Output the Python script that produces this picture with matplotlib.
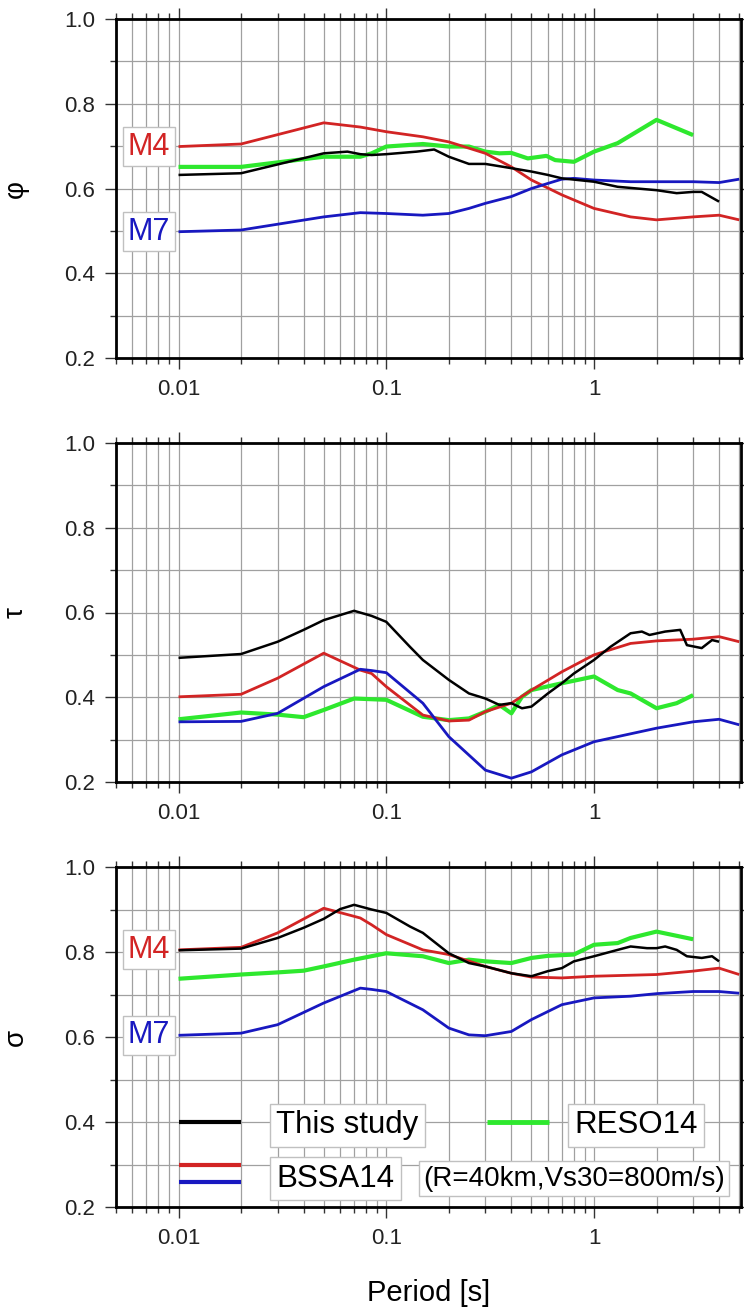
import numpy as np
import matplotlib
matplotlib.use("Agg")
import matplotlib.pyplot as plt
from matplotlib.ticker import FixedLocator, FixedFormatter, LogLocator, NullFormatter, MultipleLocator

plt.rcParams['font.family'] = ['Liberation Sans', 'DejaVu Sans']

# ---------------- data (period [s], value) ----------------
# phi (within-event)
T_phi_this = [0.01, 0.02, 0.05, 0.065, 0.075, 0.085, 0.1, 0.14, 0.17, 0.2, 0.25, 0.3, 0.4, 0.5, 0.6, 0.7, 1.0, 1.3, 2.0, 2.5, 3.0, 3.3, 4.0]
phi_this = [0.632, 0.636, 0.683, 0.687, 0.681, 0.679, 0.681, 0.687, 0.692, 0.675, 0.658, 0.658, 0.648, 0.640, 0.632, 0.624, 0.616, 0.604, 0.596, 0.589, 0.592, 0.592, 0.569]
T_phi_m4 = [0.01, 0.02, 0.05, 0.075, 0.1, 0.15, 0.2, 0.3, 0.4, 0.5, 0.7, 1.0, 1.5, 2.0, 3.0, 4.0, 5.0]
phi_m4 = [0.699, 0.705, 0.755, 0.745, 0.734, 0.722, 0.710, 0.683, 0.651, 0.620, 0.585, 0.553, 0.533, 0.526, 0.533, 0.537, 0.526]
T_phi_m7 = [0.01, 0.02, 0.05, 0.075, 0.1, 0.15, 0.2, 0.25, 0.3, 0.4, 0.5, 0.6, 0.7, 0.8, 1.0, 1.5, 2.0, 3.0, 4.0, 5.0]
phi_m7 = [0.498, 0.502, 0.533, 0.543, 0.541, 0.537, 0.541, 0.553, 0.565, 0.581, 0.600, 0.612, 0.622, 0.624, 0.620, 0.616, 0.616, 0.616, 0.614, 0.622]
T_phi_reso = [0.01, 0.02, 0.05, 0.075, 0.085, 0.1, 0.15, 0.2, 0.25, 0.3, 0.35, 0.4, 0.48, 0.59, 0.65, 0.8, 1.0, 1.3, 2.0, 3.0]
phi_reso = [0.651, 0.651, 0.675, 0.675, 0.683, 0.699, 0.705, 0.699, 0.699, 0.687, 0.683, 0.684, 0.671, 0.677, 0.667, 0.663, 0.687, 0.707, 0.762, 0.726]

# tau (between-event)
T_tau_this = [0.01, 0.02, 0.03, 0.04, 0.05, 0.07, 0.085, 0.1, 0.13, 0.15, 0.2, 0.25, 0.3, 0.35, 0.4, 0.45, 0.5, 0.6, 0.7, 0.8, 1.0, 1.2, 1.5, 1.7, 1.85, 2.2, 2.6, 2.8, 3.3, 3.7, 4.0]
tau_this = [0.493, 0.502, 0.531, 0.559, 0.582, 0.604, 0.592, 0.578, 0.519, 0.488, 0.441, 0.409, 0.397, 0.382, 0.386, 0.374, 0.378, 0.409, 0.433, 0.456, 0.488, 0.519, 0.551, 0.555, 0.547, 0.555, 0.559, 0.523, 0.516, 0.535, 0.531]
T_tau_m4 = [0.01, 0.02, 0.03, 0.05, 0.075, 0.085, 0.1, 0.15, 0.2, 0.25, 0.3, 0.4, 0.5, 0.7, 1.0, 1.5, 2.0, 3.0, 4.0, 5.0]
tau_m4 = [0.401, 0.407, 0.445, 0.504, 0.464, 0.456, 0.425, 0.358, 0.344, 0.346, 0.366, 0.386, 0.417, 0.460, 0.500, 0.527, 0.533, 0.537, 0.543, 0.531]
T_tau_m7 = [0.01, 0.02, 0.03, 0.05, 0.075, 0.085, 0.1, 0.15, 0.2, 0.3, 0.4, 0.5, 0.7, 1.0, 2.0, 3.0, 4.0, 5.0]
tau_m7 = [0.342, 0.343, 0.362, 0.425, 0.466, 0.463, 0.458, 0.386, 0.307, 0.228, 0.209, 0.224, 0.264, 0.295, 0.327, 0.342, 0.348, 0.335]
T_tau_reso = [0.01, 0.02, 0.03, 0.04, 0.05, 0.07, 0.1, 0.15, 0.2, 0.25, 0.3, 0.35, 0.4, 0.45, 0.5, 0.7, 1.0, 1.3, 1.5, 2.0, 2.5, 3.0]
tau_reso = [0.348, 0.364, 0.359, 0.353, 0.370, 0.397, 0.394, 0.354, 0.346, 0.350, 0.366, 0.382, 0.362, 0.401, 0.417, 0.433, 0.449, 0.417, 0.409, 0.374, 0.386, 0.405]

# sigma (total)
T_sig_this = [0.01, 0.02, 0.03, 0.04, 0.05, 0.06, 0.07, 0.085, 0.1, 0.13, 0.15, 0.2, 0.25, 0.3, 0.4, 0.5, 0.6, 0.7, 0.8, 1.0, 1.3, 1.5, 1.8, 2.0, 2.2, 2.5, 2.8, 3.3, 3.7, 4.0]
sig_this = [0.804, 0.808, 0.833, 0.857, 0.878, 0.901, 0.911, 0.900, 0.892, 0.860, 0.845, 0.797, 0.774, 0.766, 0.750, 0.743, 0.755, 0.762, 0.778, 0.790, 0.805, 0.813, 0.809, 0.809, 0.813, 0.805, 0.790, 0.786, 0.790, 0.778]
T_sig_m4 = [0.01, 0.02, 0.03, 0.05, 0.075, 0.085, 0.1, 0.15, 0.2, 0.3, 0.4, 0.5, 0.7, 1.0, 2.0, 3.0, 4.0, 5.0]
sig_m4 = [0.805, 0.811, 0.845, 0.903, 0.880, 0.864, 0.841, 0.805, 0.794, 0.766, 0.750, 0.741, 0.739, 0.743, 0.747, 0.755, 0.762, 0.747]
T_sig_m7 = [0.01, 0.02, 0.03, 0.05, 0.075, 0.085, 0.1, 0.15, 0.2, 0.25, 0.3, 0.4, 0.5, 0.7, 1.0, 1.5, 2.0, 3.0, 4.0, 5.0]
sig_m7 = [0.604, 0.609, 0.629, 0.680, 0.715, 0.712, 0.707, 0.664, 0.621, 0.605, 0.603, 0.613, 0.641, 0.676, 0.692, 0.696, 0.702, 0.707, 0.707, 0.703]
T_sig_reso = [0.01, 0.02, 0.03, 0.04, 0.05, 0.07, 0.1, 0.15, 0.2, 0.25, 0.3, 0.4, 0.5, 0.6, 0.8, 1.0, 1.3, 1.5, 2.0, 3.0]
sig_reso = [0.737, 0.747, 0.752, 0.756, 0.766, 0.782, 0.797, 0.790, 0.774, 0.782, 0.778, 0.774, 0.786, 0.791, 0.794, 0.817, 0.821, 0.833, 0.848, 0.830]

ylabels = ['\u03c6', '\u03c4', '\u03c3']
xtick_vals = [0.01, 0.1, 1]
xtick_labels = ['0.01', '0.1', '1']
legend_labels = ['This study', 'BSSA14', 'RESO14', '(R=40km,Vs30=800m/s)']
mag_labels = ['M4', 'M7']

# ---------------- styling ----------------
C_BLACK = '#000000'
C_RED = '#d22424'
C_BLUE = '#1818c0'
C_GREEN = '#2ee82e'
LW_BLACK, LW_RED, LW_BLUE, LW_GREEN = 1.8, 2.0, 2.0, 3.0

fig = plt.figure(figsize=(7.44, 13.09), dpi=100)
W = 744.0; H = 1309.0
left_px, right_px = 116, 741
panels_px = [(19, 358), (443, 782), (867, 1207)]
axes = []
for (top, bot) in panels_px:
    ax = fig.add_axes([left_px / W, 1 - bot / H, (right_px - left_px) / W, (bot - top) / H])
    axes.append(ax)

series = [
    [(T_phi_reso, phi_reso, C_GREEN, LW_GREEN), (T_phi_m4, phi_m4, C_RED, LW_RED),
     (T_phi_m7, phi_m7, C_BLUE, LW_BLUE), (T_phi_this, phi_this, C_BLACK, LW_BLACK)],
    [(T_tau_reso, tau_reso, C_GREEN, LW_GREEN), (T_tau_m4, tau_m4, C_RED, LW_RED),
     (T_tau_m7, tau_m7, C_BLUE, LW_BLUE), (T_tau_this, tau_this, C_BLACK, LW_BLACK)],
    [(T_sig_reso, sig_reso, C_GREEN, LW_GREEN), (T_sig_m4, sig_m4, C_RED, LW_RED),
     (T_sig_m7, sig_m7, C_BLUE, LW_BLUE), (T_sig_this, sig_this, C_BLACK, LW_BLACK)],
]

for i, ax in enumerate(axes):
    ax.set_xscale('log')
    ax.set_xlim(0.005, 5.1)
    ax.set_ylim(0.2, 1.0)
    ax.xaxis.set_major_locator(FixedLocator(xtick_vals))
    ax.xaxis.set_major_formatter(FixedFormatter(xtick_labels))
    ax.xaxis.set_minor_locator(LogLocator(base=10, subs=np.arange(2, 10)))
    ax.xaxis.set_minor_formatter(NullFormatter())
    ax.yaxis.set_minor_locator(MultipleLocator(0.1))
    ax.set_yticks([0.2, 0.4, 0.6, 0.8, 1.0])
    ax.set_yticklabels(['0.2', '0.4', '0.6', '0.8', '1.0'])
    ax.grid(True, which='both', color='#a0a0a0', linewidth=0.9)
    ax.set_axisbelow(True)
    ax.tick_params(which='major', direction='out', length=8, width=1.0,
                   top=True, right=True, labelsize=16, pad=7, color='#333333',
                   labelcolor='#222222')
    ax.tick_params(which='minor', direction='out', length=4, width=1.0,
                   top=True, right=True, color='#333333')
    for s in ax.spines.values():
        s.set_linewidth(2.0)
    for (t, v, c, lw) in series[i]:
        ax.plot(t, v, color=c, linewidth=lw, solid_capstyle='butt', clip_on=True)
    ax.set_ylabel(ylabels[i], fontsize=20, rotation='vertical')
    ax.yaxis.set_label_coords(-0.14, 0.5)

bbox_kw = dict(boxstyle='square,pad=0.15', fc='white', ec='#c0c0c0', lw=1.0)

# magnitude labels (panels 1 and 3)
for ax, m4_y, m7_y in [(axes[0], phi_m4[0], phi_m7[0]), (axes[2], sig_m4[0], sig_m7[0])]:
    ax.text(0.0091, m4_y, mag_labels[0], color=C_RED, fontsize=22, ha='right', va='center', bbox=bbox_kw, zorder=5)
    ax.text(0.0091, m7_y, mag_labels[1], color=C_BLUE, fontsize=22, ha='right', va='center', bbox=bbox_kw, zorder=5)

# legend drawn inside bottom panel
ax = axes[2]
ax.plot([0.01, 0.02], [0.40, 0.40], color=C_BLACK, lw=3.0, solid_capstyle='butt')
ax.plot([0.01, 0.02], [0.30, 0.30], color=C_RED, lw=3.0, solid_capstyle='butt')
ax.plot([0.01, 0.02], [0.26, 0.26], color=C_BLUE, lw=3.0, solid_capstyle='butt')
ax.plot([0.305, 0.61], [0.40, 0.40], color=C_GREEN, lw=3.5, solid_capstyle='butt')
leg_box = dict(boxstyle='square,pad=0.2', fc='white', ec='#c0c0c0', lw=1.0)
ax.text(0.0296, 0.392, legend_labels[0], fontsize=22.5, ha='left', va='center', bbox=leg_box, zorder=5)
ax.text(0.0296, 0.267, legend_labels[1], fontsize=22.5, ha='left', va='center', bbox=leg_box, zorder=5)
ax.text(0.80, 0.392, legend_labels[2], fontsize=22.5, ha='left', va='center', bbox=leg_box, zorder=5)
ax.text(0.150, 0.267, legend_labels[3], fontsize=20, ha='left', va='center', bbox=dict(boxstyle='square,pad=0.15', fc='white', ec='#c0c0c0', lw=1.0), zorder=5)

ax.set_xlabel('Period [s]', fontsize=21, labelpad=22)

fig.savefig('out.png', dpi=100)
